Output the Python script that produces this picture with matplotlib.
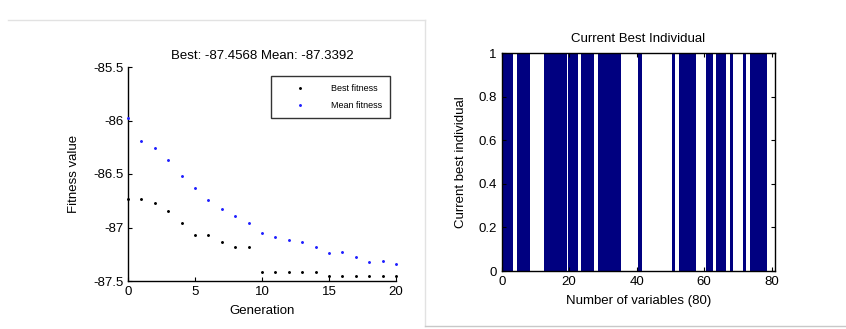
import matplotlib
matplotlib.use("Agg")
import matplotlib.pyplot as plt
import numpy as np
from matplotlib.lines import Line2D

plt.rcParams['font.family'] = ['Liberation Sans', 'DejaVu Sans']

# ---- data ----
generations = list(range(0, 21))
best_fitness = [-86.73, -86.73, -86.77, -86.85, -86.96, -87.07, -87.07, -87.14,
                -87.18, -87.18, -87.42, -87.42, -87.42, -87.42, -87.42,
                -87.4568, -87.4568, -87.4568, -87.4568, -87.4568, -87.4568]
mean_fitness = [-85.98, -86.19, -86.26, -86.37, -86.52, -86.63, -86.74, -86.83,
                -86.89, -86.96, -87.05, -87.09, -87.12, -87.14, -87.18,
                -87.24, -87.23, -87.28, -87.32, -87.31, -87.3392]
left_title = "Best: -87.4568 Mean: -87.3392"
left_yticks = [-85.5, -86, -86.5, -87, -87.5]
left_xticks = [0, 5, 10, 15, 20]

variables = list(range(1, 81))
best_individual = [1, 1, 1, 0, 1, 1, 1, 1, 0, 0,
                   0, 0, 1, 1, 1, 1, 1, 1, 1, 1,
                   1, 1, 0, 1, 1, 1, 1, 0, 1, 1,
                   1, 1, 1, 1, 1, 0, 0, 0, 0, 0,
                   1, 0, 0, 0, 0, 0, 0, 0, 0, 0,
                   1, 0, 1, 1, 1, 1, 1, 0, 0, 0,
                   1, 1, 0, 1, 1, 1, 0, 1, 0, 0,
                   0, 1, 0, 1, 1, 1, 1, 1, 0, 0]
right_yticks = [0, 0.2, 0.4, 0.6, 0.8, 1]
right_xticks = [0, 20, 40, 60, 80]

W, H = 846, 329
fig = plt.figure(figsize=(W / 100, H / 100), dpi=100)
fig.patch.set_facecolor('white')

def fx(px):
    return px / W

def fy(py):
    return 1 - py / H

# light panel borders
border = '#e2e2e2'
fig.add_artist(Line2D([fx(8), fx(425)], [fy(20), fy(20)], color=border, lw=1))
fig.add_artist(Line2D([fx(425), fx(425)], [fy(20), fy(326)], color=border, lw=1))
fig.add_artist(Line2D([fx(425), fx(846)], [fy(326), fy(326)], color='#c8c8c8', lw=1))

FS = 9.5

# ---- left axes ----
ax1 = fig.add_axes([fx(128), fy(281), fx(396) - fx(128), fy(67) - fy(281)])
ax1.plot(generations, best_fitness, linestyle='none', marker='.', ms=2.2,
         color='black', label='Best fitness', clip_on=False, zorder=5)
ax1.plot(generations, mean_fitness, linestyle='none', marker='.', ms=2.2,
         color='#2020ff', label='Mean fitness', clip_on=False, zorder=5)
ax1.set_xlim(0, 20)
ax1.set_ylim(-87.5, -85.5)
ax1.set_xticks(left_xticks)
ax1.set_yticks(left_yticks)
ax1.set_yticklabels([f"{v:g}" for v in left_yticks])
ax1.spines['top'].set_visible(False)
ax1.spines['right'].set_visible(False)
for s in ['left', 'bottom']:
    ax1.spines[s].set_linewidth(1.0)
ax1.tick_params(direction='in', length=3, labelsize=FS, width=0.8)
ax1.set_title(left_title, fontsize=FS, pad=6)
ax1.set_xlabel('Generation', fontsize=FS, labelpad=5)
ax1.set_ylabel('Fitness value', fontsize=FS, labelpad=9)
leg = ax1.legend(loc='upper right', bbox_to_anchor=(0.978, 0.958), fontsize=6.5,
                 frameon=True, fancybox=False, handlelength=4.5, borderaxespad=0,
                 borderpad=0.9, labelspacing=0.9, handletextpad=1.2, markerscale=1.0)
leg.get_frame().set_edgecolor('black')
leg.get_frame().set_linewidth(1.0)

# ---- right axes ----
ax2 = fig.add_axes([fx(501.7), fy(271), fx(775) - fx(501.7), fy(53) - fy(271)])
ax2.bar(variables, best_individual, width=0.97, color='#000080', edgecolor='none')
ax2.set_xlim(0, 81)
ax2.set_ylim(0, 1)
ax2.set_xticks(right_xticks)
ax2.set_yticks(right_yticks)
ax2.set_yticklabels([f"{v:g}" for v in right_yticks])
ax2.tick_params(direction='in', length=3, labelsize=FS, width=0.8,
                top=True, right=True)
for s in ax2.spines.values():
    s.set_linewidth(1.0)
ax2.set_title('Current Best Individual', fontsize=FS, pad=8)
ax2.set_xlabel('Number of variables (80)', fontsize=FS, labelpad=5)
ax2.set_ylabel('Current best individual', fontsize=FS, labelpad=8)

fig.savefig('out.png', dpi=100, facecolor='white')
